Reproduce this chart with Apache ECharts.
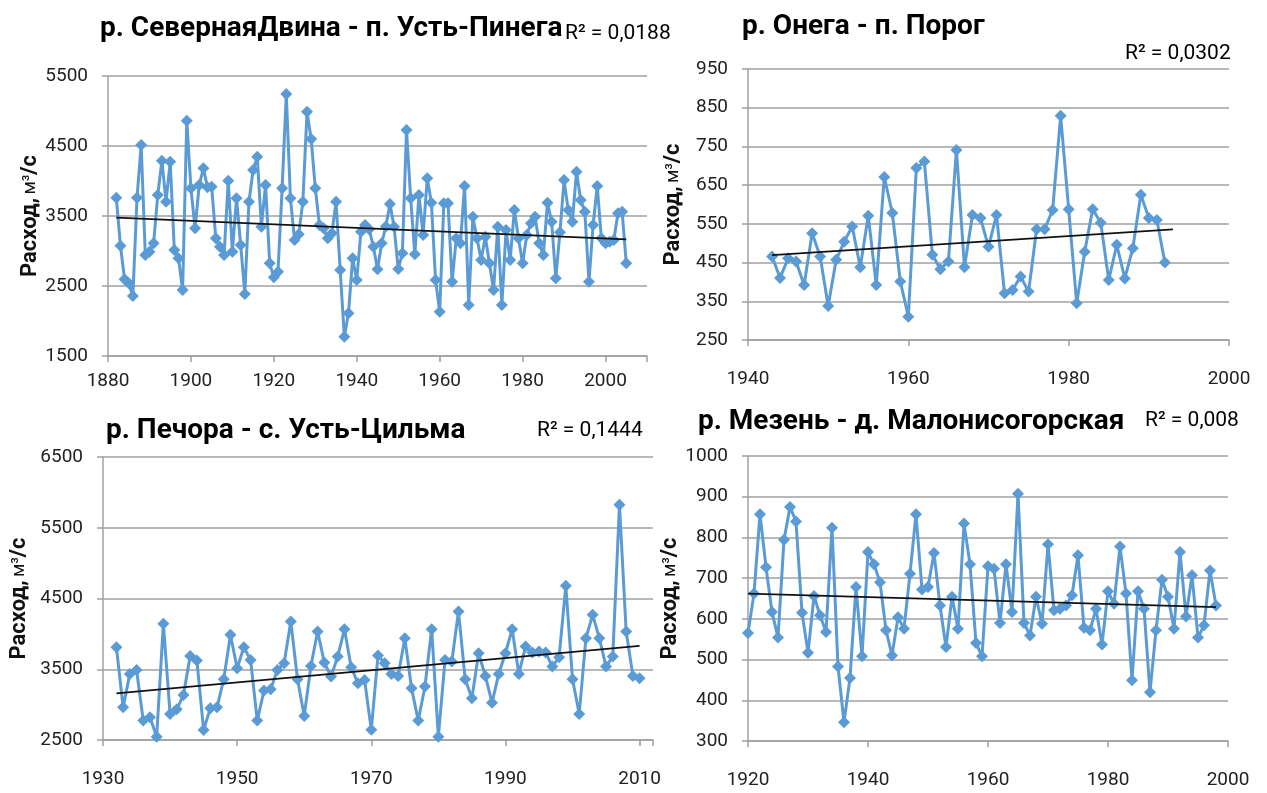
<!DOCTYPE html>
<html><head><meta charset="utf-8">
<script src="https://cdn.jsdelivr.net/npm/echarts@6/dist/echarts.min.js"></script>
<style>html,body{margin:0;padding:0;background:#fff}#c{width:1267px;height:793px}</style>
</head><body><div id="c"></div>
<script>
// ---- Data ----
const dvinaTitle = 'р. СевернаяДвина - п. Усть-Пинега';
const dvinaR2 = 'R² = 0,0188';
const dvinaStart = 1882;
const dvinaValues = [
  3762,3076,2595,2540,2357,3762,4514,2943,2990,3110,
  3800,4290,3705,4276,3014,2895,2443,4862,3895,3324,
  3943,4181,3910,3919,3181,3062,2943,4005,2990,3752,
  3086,2386,3705,4157,4348,3348,3943,2824,2624,2705,
  3895,5243,3752,3157,3238,3705,4990,4600,3895,3371,
  3324,3181,3252,3705,2729,1776,2110,2895,2586,3276,
  3371,3310,3062,2740,3110,3350,3671,3348,2743,2967,
  4729,3752,2952,3800,3229,4038,3690,2586,2133,3681,
  3681,2562,3181,3110,3929,2229,3490,3181,2871,3205,
  2824,2443,3348,2229,3300,2871,3586,3181,2824,3229,
  3395,3490,3110,2943,3690,3419,2610,3267,4014,3586,
  3419,4133,3729,3562,2562,3371,3929,3181,3110,3133,
  3157,3538,3562,2824
];
const dvinaTrend = [[1882, 3476], [2005, 3167]];

const onegaTitle = 'р. Онега - п. Порог';
const onegaR2 = 'R² = 0,0302';
const onegaStart = 1943;
const onegaValues = [
  466,410,461,453,392,526,466,338,457,504,
  543,438,571,392,671,578,401,310,694,711,
  470,433,453,741,438,573,565,491,573,371,
  379,414,375,536,536,586,829,588,345,478,
  588,553,405,496,409,487,625,565,560,450
];
const onegaTrend = [[1943, 469], [1993, 536]];

const pechoraTitle = 'р. Печора - с. Усть-Цильма';
const pechoraR2 = 'R² = 0,1444';
const pechoraStart = 1932;
const pechoraValues = [
  3811,2962,3434,3491,2774,2821,2547,4142,2868,2934,
  3137,3689,3623,2642,2948,2962,3358,3986,3514,3811,
  3632,2774,3198,3217,3491,3585,4175,3358,2840,3547,
  4033,3594,3396,3679,4066,3528,3302,3349,2645,3695,
  3585,3434,3406,3939,3231,2774,3255,4066,2547,3632,
  3608,4316,3358,3090,3726,3406,3028,3434,3726,4066,
  3434,3821,3736,3750,3736,3538,3670,4679,3358,2868,
  3939,4269,3939,3538,3679,5825,4033,3406,3373
];
const pechoraTrend = [[1932, 3160], [2010, 3830]];

const mezenTitle = 'р. Мезень - д. Малонисогорская';
const mezenR2 = 'R² = 0,008';
const mezenStart = 1920;
const mezenValues = [
  565,662,857,727,617,554,794,875,839,615,
  517,656,609,568,824,483,346,455,678,508,
  764,734,690,572,510,604,576,711,857,672,
  678,762,633,531,654,576,834,734,541,508,
  729,723,590,734,617,907,590,559,654,588,
  783,621,625,633,658,756,578,572,625,537,
  668,637,778,662,449,668,625,420,572,696,
  654,576,764,606,707,554,584,719,633
];
const mezenTrend = [[1920, 662], [1998, 629]];

const yAxisName = '{b|Расход,} {n|м³}{b|/с}';

// ---- Chart ----
const FONT = 'Roboto';
const BLUE = '#5B9BD5';
const GRID_C = '#A0A0A0';

function pairs(start, vals) { return vals.map((v, i) => [start + i, v]); }

const panels = [
  { start: dvinaStart, vals: dvinaValues, trend: dvinaTrend,
    grid: { left: 108, top: 76, width: 539, height: 280 },
    x: { min: 1880, max: 2010, interval: 20, margin: 16 },
    y: { min: 1500, max: 5500, interval: 1000, nameGap: 66 } },
  { start: onegaStart, vals: onegaValues, trend: onegaTrend,
    grid: { left: 748, top: 69, width: 481, height: 271 },
    x: { min: 1940, max: 2000, interval: 20, margin: 30 },
    y: { min: 250, max: 950, interval: 100, nameGap: 64 } },
  { start: pechoraStart, vals: pechoraValues, trend: pechoraTrend,
    grid: { left: 103, top: 457, width: 550, height: 283 },
    x: { min: 1930, max: 2012, interval: 20, margin: 30 },
    y: { min: 2500, max: 6500, interval: 1000, nameGap: 73 } },
  { start: mezenStart, vals: mezenValues, trend: mezenTrend,
    grid: { left: 748, top: 456, width: 480, height: 285 },
    x: { min: 1920, max: 2000, interval: 20, margin: 30 },
    y: { min: 300, max: 1000, interval: 100, nameGap: 56 } }
];

const grids = [], xAxes = [], yAxes = [], series = [];
panels.forEach((p, i) => {
  grids.push(Object.assign({ containLabel: false }, p.grid));
  xAxes.push({
    type: 'value', gridIndex: i, min: p.x.min, max: p.x.max, interval: p.x.interval,
    axisLine: { show: true, lineStyle: { color: GRID_C, width: 1.5 } },
    axisTick: { show: true, inside: false, length: 6, lineStyle: { color: GRID_C, width: 1.5 } },
    splitLine: { show: false },
    axisLabel: {
      margin: p.x.margin, color: '#222', fontFamily: FONT, fontSize: 19,
      formatter: v => ((v - p.x.min) % p.x.interval === 0 ? String(v) : '')
    }
  });
  yAxes.push({
    type: 'value', gridIndex: i, min: p.y.min, max: p.y.max, interval: p.y.interval,
    name: yAxisName, nameLocation: 'middle', nameRotate: 90, nameGap: p.y.nameGap,
    nameTextStyle: {
      rich: {
        b: { fontFamily: FONT, fontWeight: 'bold', fontSize: 22, color: '#111' },
        n: { fontFamily: FONT, fontWeight: 'normal', fontSize: 18, color: '#111' }
      }
    },
    axisLine: { show: true, lineStyle: { color: GRID_C, width: 1.5 } },
    axisTick: { show: true, inside: false, length: 6, lineStyle: { color: GRID_C, width: 1.5 } },
    splitLine: { show: true, lineStyle: { color: GRID_C, width: 1.5 } },
    axisLabel: { margin: 20, color: '#222', fontFamily: FONT, fontSize: 19, formatter: v => String(v) }
  });
  series.push({
    type: 'line', xAxisIndex: i, yAxisIndex: i, data: pairs(p.start, p.vals),
    symbol: 'diamond', symbolSize: 12, showSymbol: true,
    lineStyle: { color: BLUE, width: 3 }, itemStyle: { color: BLUE },
    z: 2
  });
  series.push({
    type: 'line', xAxisIndex: i, yAxisIndex: i, data: p.trend,
    symbol: 'none', lineStyle: { color: '#111', width: 1.8 }, z: 3
  });
});

const tStyle = { fontFamily: FONT, fontWeight: 'bold', fontSize: 28, color: '#000' };
const rStyle = { fontFamily: FONT, fontWeight: 'normal', fontSize: 21, color: '#000' };
const titles = [
  { text: dvinaTitle, left: 100, top: 15, textStyle: tStyle },
  { text: dvinaR2, left: 565, top: 23, textStyle: rStyle },
  { text: onegaTitle, left: 742, top: 13, textStyle: tStyle },
  { text: onegaR2, left: 1125, top: 43, textStyle: rStyle },
  { text: pechoraTitle, left: 106, top: 417, textStyle: tStyle },
  { text: pechoraR2, left: 537, top: 420, textStyle: rStyle },
  { text: mezenTitle, left: 698, top: 408, textStyle: tStyle },
  { text: mezenR2, left: 1145, top: 410, textStyle: rStyle }
].map(t => Object.assign({ padding: 0 }, t));

const chart = echarts.init(document.getElementById('c'), null, { renderer: 'canvas' });
chart.setOption({
  backgroundColor: '#fff',
  animation: false,
  title: titles,
  grid: grids,
  xAxis: xAxes,
  yAxis: yAxes,
  series: series
});
</script>
</body></html>
